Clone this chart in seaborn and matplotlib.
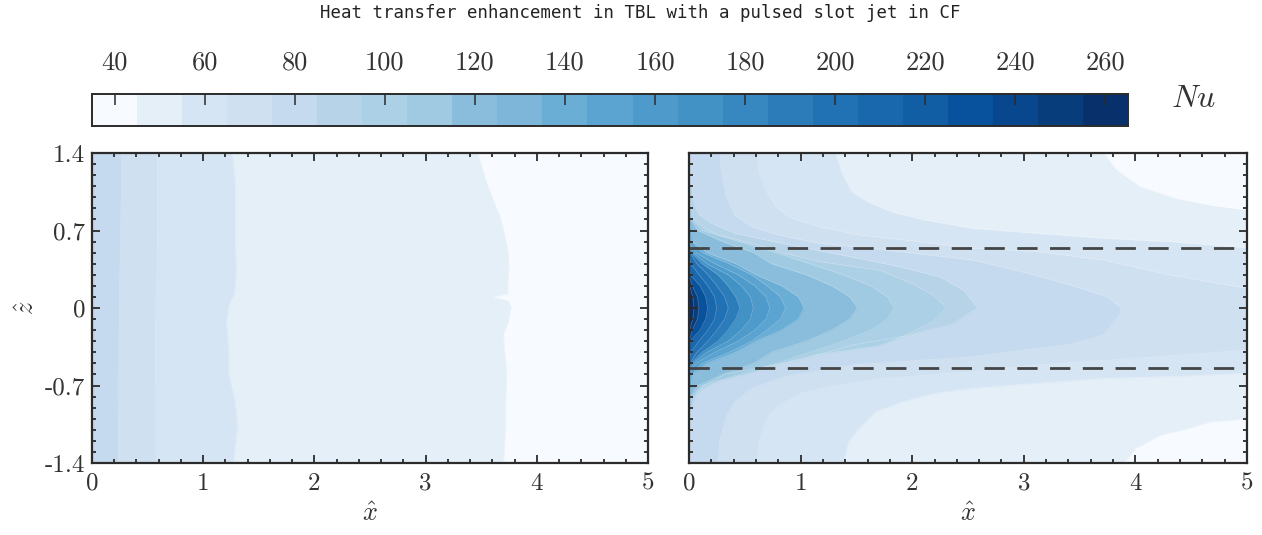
import numpy as np
import matplotlib
matplotlib.use("Agg")
import matplotlib.pyplot as plt
from matplotlib.colors import ListedColormap
from matplotlib.ticker import FixedLocator
import seaborn as sns

# colour bins of the Nu scale, 35 to 265 in steps of 10
nu_low = 35
nu_step = 10
nu_bins = ["#F7FBFF", "#E5EFF8", "#D6E5F4", "#CFE0F1", "#C5DAEE", "#B6D3E7",
           "#ACD0E5", "#9FCAE1", "#8ABDDB", "#7EB6D9", "#6AADD5", "#5BA3D0",
           "#4E9BCB", "#4292C6", "#3787C0", "#2C7CBA", "#2171B5", "#1967AD",
           "#115EA5", "#08519C", "#08478D", "#083D7C", "#08306B"]
nu_ticks = [40, 60, 80, 100, 120, 140, 160, 180, 200, 220, 240, 260]

x_ticks = [0, 1, 2, 3, 4, 5]
z_ticks = [1.4, 0.7, 0, -0.7, -1.4]
z_labels = ["1.4", "0.7", "0", "-0.7", "-1.4"]
jet_edge = 0.545

# left panel, contour edge x for each z (no jet)
left_z = [1.4, 1.13, 0.825, 0.67, 0.52, 0.37, 0.22, 0.13, 0.10, 0.07, 0.01,
          -0.14, -0.23, -0.38, -0.59, -0.83, -1.07, -1.4]
left_bins = [1, 2, 3, 4]
left_edges = [
    [3.47, 3.55, 3.67, 3.71, 3.74, 3.75, 3.74, 3.74, 3.61, 3.74, 3.77, 3.74, 3.70, 3.71, 3.73, 3.72, 3.72, 3.70],
    [1.26, 1.29, 1.29, 1.29, 1.29, 1.30, 1.29, 1.28, 1.27, 1.25, 1.23, 1.21, 1.22, 1.23, 1.23, 1.285, 1.31, 1.27],
    [0.59, 0.59, 0.59, 0.59, 0.585, 0.585, 0.58, 0.58, 0.575, 0.575, 0.575, 0.57, 0.57, 0.57, 0.57, 0.575, 0.575, 0.575],
    [0.267, 0.265, 0.26, 0.258, 0.255, 0.252, 0.25, 0.248, 0.246, 0.246, 0.245, 0.245, 0.244, 0.243, 0.24, 0.24, 0.238, 0.237],
]

# right panel (jet), six outer contours read as (z, x) polylines
right_bins = [1, 2, 3, 4, 5, 6, 7, 8, 10, 11, 12, 13, 15, 16, 17, 19, 21, 22]
outer_upper_z = [
    [1.41, 1.25, 1.10, 0.99, 0.93, 0.885, 0.8, 0],
    [1.41, 1.22, 1.05, 0.96, 0.87, 0.795, 0.72, 0.675, 0.63, 0.6, 0.545, 0.4, 0],
    [1.41, 1.22, 1.04, 0.9, 0.81, 0.735, 0.66, 0.6, 0.54, 0.51, 0.434, 0.30, 0.178, 0],
    [1.41, 1.25, 1.0, 0.84, 0.735, 0.66, 0.585, 0.524, 0.434, 0.33, 0.21, 0.1, 0],
    [1.2, 1.13, 0.98, 0.855, 0.765, 0.675, 0.61, 0.55, 0.46, 0.37, 0.28, 0.16, 0],
    [1.0, 0.915, 0.795, 0.72, 0.66, 0.585, 0.494, 0.42, 0.34, 0.22, 0.117, 0],
]
outer_upper_x = [
    [3.71, 3.83, 4.04, 4.37, 4.67, 5.0, 6, 6],
    [1.31, 1.37, 1.46, 1.6, 1.81, 2.11, 2.54, 3.11, 3.71, 4.3, 5, 6, 6],
    [0.61, 0.63, 0.70, 0.79, 0.92, 1.16, 1.52, 2.05, 2.54, 3.11, 3.71, 4.3, 5, 5.6],
    [0.28, 0.287, 0.337, 0.41, 0.56, 0.8, 1.16, 1.755, 2.54, 2.97, 3.41, 3.75, 3.87],
    [0, 0.02, 0.04, 0.08, 0.2, 0.41, 0.71, 1.0, 1.46, 1.9, 2.25, 2.46, 2.585],
    [0, 0.02, 0.05, 0.14, 0.26, 0.56, 0.86, 1.16, 1.71, 2.0, 2.19, 2.31],
]
outer_lower_z = [
    [-1.41, -1.27, -1.15, -1.09, -1.03, -1.0, -0.9, 0],
    [-1.41, -1.21, -1.09, -0.94, -0.85, -0.77, -0.725, -0.68, -0.635, -0.62, -0.59, -0.45, 0],
    [-1.41, -1.18, -0.97, -0.88, -0.77, -0.7, -0.635, -0.575, -0.515, -0.455, -0.38, -0.2, 0],
    [-1.41, -1.18, -0.97, -0.85, -0.73, -0.62, -0.515, -0.44, -0.365, -0.33, -0.245, -0.06, 0],
    [-1.2, -0.94, -0.76, -0.7, -0.6, -0.47, -0.335, -0.25, -0.15, 0],
    [-1.0, -0.915, -0.795, -0.72, -0.66, -0.585, -0.494, -0.42, -0.34, -0.22, -0.117, 0],
]
outer_lower_x = [
    [3.89, 4.0, 4.22, 4.46, 4.67, 5.0, 6, 6],
    [1.38, 1.43, 1.52, 1.67, 1.9, 2.2, 2.54, 3.11, 3.71, 4.3, 5, 6, 6],
    [0.61, 0.635, 0.71, 0.81, 1.01, 1.31, 1.755, 2.54, 3.11, 4.0, 5, 5.6, 5.6],
    [0.26, 0.28, 0.34, 0.41, 0.56, 0.86, 1.46, 2.54, 3.11, 3.41, 3.71, 3.86, 3.87],
    [0, 0.02, 0.08, 0.14, 0.32, 1.0, 1.46, 1.95, 2.35, 2.585],
    [0, 0.02, 0.05, 0.14, 0.26, 0.56, 0.86, 1.16, 1.71, 2.0, 2.19, 2.31],
]
# inner contours are symmetric about z = 0, x for each |z|
inner_z = [0.9, 0.8, 0.7, 0.6, 0.5, 0.4, 0.3, 0.2, 0.1, 0.0]
inner_x = [
    [0, 0.03, 0.12, 0.45, 0.78, 1.08, 1.38, 1.63, 1.78, 1.84],
    [0, 0.015, 0.08, 0.30, 0.58, 0.74, 1.05, 1.28, 1.44, 1.51],
    [0, 0, 0.02, 0.03, 0.16, 0.42, 0.60, 0.83, 0.98, 1.03],
    [0, 0, 0, 0.02, 0.12, 0.36, 0.56, 0.70, 0.82, 0.865],
    [0, 0, 0, 0, 0.06, 0.23, 0.44, 0.59, 0.69, 0.725],
    [0, 0, 0, 0, 0.035, 0.16, 0.35, 0.47, 0.55, 0.576],
    [0, 0, 0, 0, 0.02, 0.12, 0.26, 0.35, 0.42, 0.457],
    [0, 0, 0, 0, 0.01, 0.07, 0.17, 0.25, 0.32, 0.352],
    [0, 0, 0, 0, 0, 0.015, 0.09, 0.17, 0.23, 0.248],
    [0, 0, 0, 0, 0, 0, 0.01, 0.10, 0.15, 0.167],
    [0, 0, 0, 0, 0, 0, 0, 0.03, 0.075, 0.09],
    [0, 0, 0, 0, 0, 0, 0, 0.005, 0.035, 0.045],
]

sns.set_theme(style="ticks")
plt.rcParams["font.family"] = ["cmr10", "DejaVu Sans"]
plt.rcParams["axes.unicode_minus"] = False
plt.rcParams["axes.formatter.use_mathtext"] = True
plt.rcParams["mathtext.fontset"] = "cm"

W, H = 1262, 535
dark = "#2b2b2b"
txt = "#333333"
fig = plt.figure(figsize=(W / 100, H / 100), dpi=100)


def px_axes(x0, y0, x1, y1):
    return fig.add_axes([x0 / W, 1 - y1 / H, (x1 - x0) / W, (y1 - y0) / H])


def style_panel(ax):
    ax.set_axisbelow(False)
    ax.set_xlim(0, 5)
    ax.set_ylim(-1.4, 1.4)
    ax.xaxis.set_major_locator(FixedLocator(x_ticks))
    ax.xaxis.set_minor_locator(FixedLocator(np.arange(0, 5.01, 0.2)))
    ax.yaxis.set_major_locator(FixedLocator(z_ticks))
    ax.yaxis.set_minor_locator(FixedLocator(np.arange(-1.4, 1.41, 0.1)))
    ax.tick_params(which="major", direction="in", length=5.5, width=1.3, color=dark,
                   top=True, right=True, labelsize=18, labelcolor=txt)
    ax.tick_params(axis="x", which="major", pad=7)
    ax.tick_params(axis="y", which="major", pad=5)
    ax.tick_params(which="minor", direction="in", length=3, width=1.3, color=dark,
                   top=True, right=True)
    ax.set_xticklabels([str(t) for t in x_ticks])
    ax.set_xlabel(r"$\hat{x}$", fontsize=19, color=txt, labelpad=5)
    for s in ax.spines.values():
        s.set_visible(True)
        s.set_linewidth(1.6)
        s.set_color(dark)
        s.set_zorder(5)


def paint(ax, contours, bins):
    ax.set_facecolor(nu_bins[0])
    for (x, z), b in zip(contours, bins):
        ax.fill_betweenx(z, 0, x, color=nu_bins[b], lw=0)
        ax.plot(x, z, color="white", lw=0.5, alpha=0.3)


# colour bar, one row of bin centres
bar = px_axes(92, 94, 1128, 126)
centres = np.arange(len(nu_bins)) * nu_step + nu_low + nu_step / 2
sns.heatmap(centres.reshape(1, -1), ax=bar, cmap=ListedColormap(nu_bins), cbar=False,
            vmin=nu_low, vmax=nu_low + nu_step * len(nu_bins), xticklabels=False,
            yticklabels=False)
bar.set_axisbelow(False)
bar.set_xticks([(t - nu_low) / nu_step for t in nu_ticks])
bar.set_xticklabels([str(t) for t in nu_ticks])
bar.set_yticks([])
bar.tick_params(axis="x", direction="in", length=8, width=1.1, color=dark, top=True,
                bottom=False, labeltop=True, labelbottom=False, labelsize=19,
                labelcolor=txt, pad=14)
for s in bar.spines.values():
    s.set_visible(True)
    s.set_linewidth(1.4)
    s.set_color(dark)
fig.text(1194 / W, 1 - 99 / H, r"$Nu$", fontsize=23, color=txt, ha="center", va="center")

# left panel
ax1 = px_axes(92, 153, 648, 463)
paint(ax1, [(x, left_z) for x in left_edges], left_bins)
style_panel(ax1)
ax1.set_yticklabels(z_labels)
ax1.set_ylabel(r"$\hat{z}$", fontsize=19, color=txt, labelpad=4)

# right panel
ax2 = px_axes(689, 153, 1247, 463)
inner_full_z = inner_z + [-v for v in inner_z[::-1][1:]]
contours = []
for i in range(len(outer_upper_x)):
    contours.append((outer_upper_x[i] + outer_lower_x[i][::-1][1:],
                     outer_upper_z[i] + outer_lower_z[i][::-1][1:]))
for row in inner_x:
    contours.append((row + row[::-1][1:], inner_full_z))
paint(ax2, contours, right_bins)
for level in [jet_edge, -jet_edge]:
    ax2.axhline(level, color="#444444", lw=2.0, dashes=(7.3, 4.5), dash_capstyle="butt", zorder=4)
style_panel(ax2)
ax2.set_yticklabels([])

fig.text(640 / W, 1 - 13 / H, "Heat transfer enhancement in TBL with a pulsed slot jet in CF",
         family="DejaVu Sans Mono", fontsize=12.5, color="#222222", ha="center", va="center")

fig.savefig("out.png", dpi=100)
